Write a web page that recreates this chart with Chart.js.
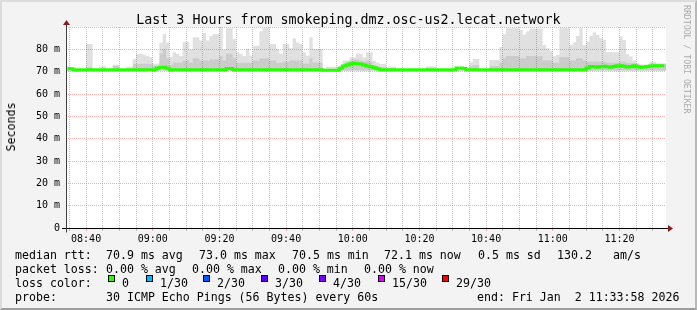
<!DOCTYPE html>
<html>
<head>
<meta charset="utf-8">
<script src="https://cdn.jsdelivr.net/npm/chart.js@4.4.1/dist/chart.umd.min.js"></script>
<style>
    html, body { margin: 0; padding: 0; background: #f3f3f3; }
    #wrap { position: relative; width: 697px; height: 310px; overflow: hidden; font-family: "DejaVu Sans Mono", monospace; color: #000; }
    #chart { position: absolute; left: 0; top: 0; }
    #frame { position: absolute; left: 0; top: 0; width: 697px; height: 310px; box-sizing: border-box;
             border-top: 2px solid #dcdcdc; border-left: 2px solid #dcdcdc;
             border-right: 2px solid #b8b8b8; border-bottom: 2px solid #9c9c9c; pointer-events: none; }
    .txt { position: absolute; white-space: pre; font-size: 11.6px; line-height: 14px; }
    #title { position: absolute; left: 0; width: 697px; top: 12px; text-align: center; font-size: 13.3px; line-height: 16px; white-space: pre; }
    #ylabel { position: absolute; left: 11px; top: 127px; font-size: 11.6px; line-height: 14px; white-space: pre;
              transform: translate(-50%, -50%) rotate(-90deg); }
    #mark { position: absolute; left: 682px; top: 5px; writing-mode: vertical-rl; font-size: 8.2px; color: #ababab; white-space: pre; }
    .sq { position: absolute; width: 5px; height: 5px; border: 1px solid #000; }
</style>
</head>
<body>
<div id="wrap">
    <canvas id="chart" width="697" height="310"></canvas>
    <div id="title">Last 3 Hours from smokeping.dmz.osc-us2.lecat.network</div>
    <div id="ylabel">Seconds</div>
    <div id="mark">RRDTOOL / TOBI OETIKER</div>
    <div id="legend"></div>
    <div id="frame"></div>
</div>
<script>
// ----------------------- data -----------------------

// window: 08:33:58 .. 11:33:58, one value per minute (x in minutes since midnight)
const startMinute = 8 * 60 + 33 + 58 / 60;
const endMinute = startMinute + 180;

// median rtt per minute (ms)
const medianMs = [
    71.4, 71.3, 70.9, 70.9, 70.9, 70.9, 70.9, 70.9, 70.9, 70.9,
    70.9, 70.9, 70.9, 70.9, 70.9, 70.9, 70.9, 70.9, 70.9, 70.9,
    70.9, 70.9, 70.9, 70.9, 70.9, 70.9, 70.9, 71.6, 72.0, 72.0,
    71.5, 70.9, 70.9, 70.9, 70.9, 70.9, 70.9, 70.9, 70.9, 70.9,
    70.9, 70.9, 70.9, 70.9, 70.9, 70.9, 70.9, 70.9, 71.4, 71.4,
    70.9, 70.9, 70.9, 70.9, 70.9, 70.9, 70.9, 70.9, 70.9, 70.9,
    70.9, 70.9, 70.9, 70.9, 70.9, 70.9, 70.9, 70.9, 70.9, 70.9,
    70.9, 70.9, 70.9, 70.9, 70.9, 70.9, 70.9, 70.6, 70.6, 70.6,
    70.6, 70.6, 71.5, 72.5, 73.0, 73.5, 73.8, 73.6, 73.4, 73.0,
    72.5, 72.2, 71.8, 71.3, 70.9, 70.9, 70.9, 70.9, 70.9, 70.9,
    70.9, 70.9, 70.9, 70.9, 70.9, 70.9, 70.9, 70.9, 70.9, 70.9,
    70.9, 70.9, 70.9, 70.9, 70.9, 70.9, 70.9, 71.6, 71.6, 71.4,
    70.9, 70.9, 70.9, 70.9, 70.9, 70.9, 70.9, 70.9, 70.9, 70.9,
    70.9, 70.9, 70.9, 70.9, 70.9, 70.9, 70.9, 70.9, 70.9, 70.9,
    70.9, 70.9, 70.9, 70.9, 70.9, 70.9, 70.9, 70.9, 70.9, 70.9,
    70.9, 70.9, 70.9, 70.9, 70.9, 70.9, 71.6, 72.3, 72.2, 72.0,
    72.3, 72.4, 72.2, 72.0, 72.3, 72.6, 72.7, 72.4, 72.1, 72.3,
    72.6, 72.2, 72.0, 72.1, 72.3, 72.5, 72.6, 72.7, 72.6, 72.6
];

// slowest ping of each minute (top of the light smoke, ms)
const smokeTopMs = [
    72.4, 72.0, 71.9, 71.0, 71.0, 71.0, 82.4, 82.4, 71.0, 71.0,
    72.4, 72.4, 71.0, 71.0, 73.1, 73.1, 71.0, 71.0, 72.2, 72.2,
    75.7, 78.0, 78.0, 77.6, 77.0, 76.4, 73.6, 73.6, 83.0, 86.9,
    83.0, 76.5, 78.7, 78.0, 77.0, 83.4, 83.4, 80.0, 85.4, 85.4,
    84.0, 87.3, 84.0, 86.0, 86.9, 86.9, 89.9, 80.0, 89.5, 89.5,
    84.6, 78.7, 78.0, 77.0, 80.2, 77.2, 81.6, 81.6, 88.1, 89.6,
    89.6, 82.4, 82.4, 80.2, 77.9, 82.4, 82.4, 80.5, 84.9, 83.1,
    82.4, 78.7, 77.2, 85.4, 80.2, 80.2, 80.2, 71.0, 72.2, 72.2,
    72.2, 72.2, 73.0, 74.9, 75.0, 76.4, 76.4, 78.2, 78.0, 76.4,
    78.7, 78.7, 74.9, 74.0, 73.4, 73.4, 72.2, 72.2, 72.2, 71.0,
    71.0, 71.0, 71.0, 71.0, 71.0, 71.0, 71.0, 71.0, 72.4, 72.4,
    72.4, 71.0, 71.0, 71.0, 71.0, 71.0, 71.0, 71.7, 71.9, 71.5,
    71.0, 74.2, 75.7, 75.7, 71.0, 71.0, 71.0, 75.2, 75.2, 75.2,
    81.0, 86.8, 89.5, 89.5, 89.5, 89.5, 88.7, 86.6, 88.0, 89.3,
    89.3, 89.3, 89.3, 81.9, 80.5, 79.4, 77.0, 77.5, 89.6, 89.6,
    89.6, 81.9, 83.1, 86.0, 89.6, 81.9, 83.5, 86.0, 87.6, 86.5,
    85.1, 84.2, 78.7, 78.7, 78.7, 78.7, 85.7, 84.2, 77.9, 76.8,
    75.0, 73.5, 72.7, 72.7, 72.7, 74.5, 74.5, 73.7, 73.7, 73.7
];

// top of the denser (darker) part of the smoke per minute (ms)
const smokeMidMs = [
    71.8, 71.5, 71.2, 71.0, 71.0, 71.0, 72.0, 72.0, 71.0, 71.0,
    71.0, 71.0, 71.0, 71.0, 72.6, 72.6, 71.0, 71.0, 71.0, 71.0,
    73.5, 73.5, 73.5, 73.5, 73.5, 73.5, 72.5, 72.5, 78.0, 80.0,
    76.0, 73.0, 74.0, 74.0, 74.0, 75.0, 75.0, 74.0, 76.0, 76.0,
    75.0, 75.0, 75.0, 75.5, 75.5, 75.5, 77.0, 75.0, 78.0, 78.0,
    76.0, 74.0, 74.0, 74.0, 74.0, 74.0, 75.0, 75.0, 76.0, 76.0,
    76.0, 75.0, 75.0, 74.0, 74.0, 74.5, 74.5, 75.0, 75.0, 75.0,
    75.0, 73.5, 73.5, 76.0, 74.0, 74.0, 74.0, 71.0, 71.0, 71.0,
    71.0, 71.0, 72.0, 73.5, 74.5, 75.0, 75.5, 75.5, 75.0, 74.5,
    75.0, 74.5, 73.0, 72.5, 72.0, 72.0, 71.5, 71.5, 71.5, 71.0,
    71.0, 71.0, 71.0, 71.0, 71.0, 71.0, 71.0, 71.0, 71.5, 71.5,
    71.5, 71.0, 71.0, 71.0, 71.0, 71.0, 71.0, 71.0, 71.0, 71.0,
    71.0, 72.5, 73.0, 73.0, 71.0, 71.0, 71.0, 72.5, 72.5, 72.5,
    74.0, 76.0, 77.0, 77.0, 77.0, 77.0, 76.0, 76.0, 77.0, 77.0,
    77.0, 77.0, 77.0, 75.0, 75.0, 75.0, 74.0, 74.0, 76.5, 76.5,
    76.5, 75.0, 75.0, 76.0, 76.0, 75.0, 74.5, 74.5, 74.5, 74.5,
    74.5, 74.5, 74.0, 74.0, 74.0, 74.0, 74.5, 74.5, 73.8, 73.8,
    73.8, 73.8, 73.3, 73.3, 73.3, 73.5, 73.5, 73.5, 73.5, 73.5
];

// fastest ping, bottom of the smoke (ms)
const smokeLowMs = 70.4;

const xGridStep = 5;     // minutes
const xLabelStep = 20;   // minutes
const yTickStep = 5;
const yMax = 90;

// legend rows: [left x, text]
const legendRows = [
    { top: 248, items: [[15, "median rtt:"], [106, "70.9 ms avg"], [199, "73.0 ms max"], [292, "70.5 ms min"], [384, "72.1 ms now"], [478, "0.5 ms sd"], [557, "130.2"], [613, "am/s"]] },
    { top: 262, items: [[15, "packet loss:"], [106, "0.00 % avg"], [192, "0.00 % max"], [278, "0.00 % min"], [364, "0.00 % now"]] },
    { top: 276, items: [[15, "loss color:"]] },
    { top: 290, items: [[15, "probe:"], [106, "30 ICMP Echo Pings (56 Bytes) every 60s"], [477, "end: Fri Jan  2 11:33:58 2026"]] },
];
const lossLabels = ["0", "1/30", "2/30", "3/30", "4/30", "15/30", "29/30"];
const lossColors = ["#26ff00", "#00b8ff", "#0059ff", "#5e00ff", "#7e00ff", "#dd00ff", "#ff0000"];
const lossSquareX = [108, 146, 203, 261, 319, 378, 442];

// ----------------------- legend (html text) -----------------------

function buildLegend() {
    const box = document.getElementById("legend");
    legendRows.forEach(row => {
        row.items.forEach(([x, text]) => {
            const d = document.createElement("div");
            d.className = "txt";
            d.style.left = x + "px";
            d.style.top = row.top + "px";
            d.textContent = text;
            box.appendChild(d);
        });
    });
    lossLabels.forEach((lab, i) => {
        const sq = document.createElement("div");
        sq.className = "sq";
        sq.style.left = lossSquareX[i] + "px";
        sq.style.top = "275px";
        sq.style.background = lossColors[i];
        box.appendChild(sq);

        const t = document.createElement("div");
        t.className = "txt";
        t.style.left = (lossSquareX[i] + 14) + "px";
        t.style.top = "276px";
        t.textContent = lab;
        box.appendChild(t);
    });
}

// ----------------------- chart -----------------------

function minuteX(i) {
    return startMinute + i + 0.5;
}

function hhmm(v) {
    const h = Math.floor(v / 60);
    const m = Math.round(v % 60);
    return String(h).padStart(2, "0") + ":" + String(m).padStart(2, "0");
}

// white canvas + rrdtool style axes with arrows
const rrdFrame = {
    id: "rrdFrame",
    beforeDraw(chart) {
        const { ctx, chartArea: a } = chart;
        ctx.save();
        ctx.fillStyle = "#ffffff";
        ctx.fillRect(a.left, a.top, a.right - a.left, a.bottom - a.top);
        ctx.restore();
    },
    afterDraw(chart) {
        const { ctx, chartArea: a } = chart;
        const y0 = Math.round(chart.scales.y.getPixelForValue(0)) + 0.5;
        const x0 = Math.round(a.left) + 0.5;
        ctx.save();
        ctx.lineWidth = 1;
        ctx.strokeStyle = "#000000";
        ctx.beginPath();
        ctx.moveTo(a.left - 4, y0);
        ctx.lineTo(a.right + 3, y0);
        ctx.stroke();
        ctx.strokeStyle = "#404040";
        ctx.beginPath();
        ctx.moveTo(x0, y0 + 4);
        ctx.lineTo(x0, a.top - 3);
        ctx.stroke();
        ctx.fillStyle = "#8a1c1c";
        ctx.beginPath();
        ctx.moveTo(a.right + 2, y0 - 3.5);
        ctx.lineTo(a.right + 7, y0);
        ctx.lineTo(a.right + 2, y0 + 3.5);
        ctx.closePath();
        ctx.fill();
        ctx.beginPath();
        ctx.moveTo(x0 - 3.5, a.top - 2);
        ctx.lineTo(x0, a.top - 7);
        ctx.lineTo(x0 + 3.5, a.top - 2);
        ctx.closePath();
        ctx.fill();
        ctx.restore();
    }
};

function buildChart() {
    const ctx = document.getElementById("chart");

    const topData = smokeTopMs.map((v, i) => ({ x: minuteX(i), y: [smokeLowMs, v] }));
    const midData = smokeMidMs.map((v, i) => ({ x: minuteX(i), y: [smokeLowMs, v] }));
    const medData = medianMs.map((v, i) => ({ x: minuteX(i), y: v }));

    const tickFont = { family: "DejaVu Sans Mono", size: 10 };
    const majorGrid = "rgba(240,80,80,0.45)";
    const minorGrid = "rgba(0,0,0,0.22)";

    new Chart(ctx, {
        type: "bar",
        data: {
            datasets: [
                {
                    type: "line",
                    label: "median",
                    data: medData,
                    borderColor: "#26ff00",
                    borderWidth: 3,
                    pointRadius: 0,
                    stepped: "middle",
                    order: 0,
                },
                {
                    label: "smoke mid",
                    data: midData,
                    backgroundColor: "rgba(0,0,0,0.09)",
                    borderWidth: 0,
                    grouped: false,
                    barPercentage: 1,
                    categoryPercentage: 1,
                    inflateAmount: 0,
                    order: 1,
                },
                {
                    label: "smoke",
                    data: topData,
                    backgroundColor: "rgba(0,0,0,0.12)",
                    borderWidth: 0,
                    grouped: false,
                    barPercentage: 1,
                    categoryPercentage: 1,
                    inflateAmount: 0,
                    order: 2,
                },
            ]
        },
        options: {
            responsive: false,
            animation: false,
            devicePixelRatio: 1,
            layout: { padding: { left: 0, right: 31, top: 27, bottom: 0 } },
            plugins: {
                legend: { display: false },
                tooltip: { enabled: false },
                title: { display: false },
            },
            scales: {
                x: {
                    type: "linear",
                    min: startMinute,
                    max: endMinute,
                    offset: false,
                    afterFit: s => { s.height = 82; },
                    afterBuildTicks: s => {
                        const ticks = [];
                        for (let v = Math.ceil(s.min / xGridStep) * xGridStep; v < s.max; v += xGridStep) {
                            ticks.push({ value: v });
                        }
                        s.ticks = ticks;
                    },
                    border: { display: false, dash: [1, 1] },
                    grid: {
                        offset: false,
                        color: c => (c.tick && c.tick.value % xLabelStep === 0) ? majorGrid : minorGrid,
                        tickLength: 3,
                    },
                    ticks: {
                        autoSkip: false,
                        maxRotation: 0,
                        padding: 2,
                        color: "#000",
                        font: tickFont,
                        callback: v => (v % xLabelStep === 0 ? hhmm(v) : ""),
                    },
                },
                y: {
                    min: 0,
                    max: yMax,
                    afterFit: s => { s.width = 66; },
                    border: { display: false, dash: [1, 1] },
                    grid: {
                        color: c => (c.tick && c.tick.value % 10 === 0) ? majorGrid : minorGrid,
                        drawTicks: false,
                    },
                    ticks: {
                        stepSize: yTickStep,
                        padding: 6,
                        color: "#000",
                        font: tickFont,
                        callback: v => (v % 10 !== 0 || v === yMax) ? "" : (v === 0 ? "0" : v + " m"),
                    },
                },
            },
        },
        plugins: [rrdFrame],
    });
}

document.addEventListener("DOMContentLoaded", () => {
    buildLegend();
    buildChart();
});
</script>
</body>
</html>
